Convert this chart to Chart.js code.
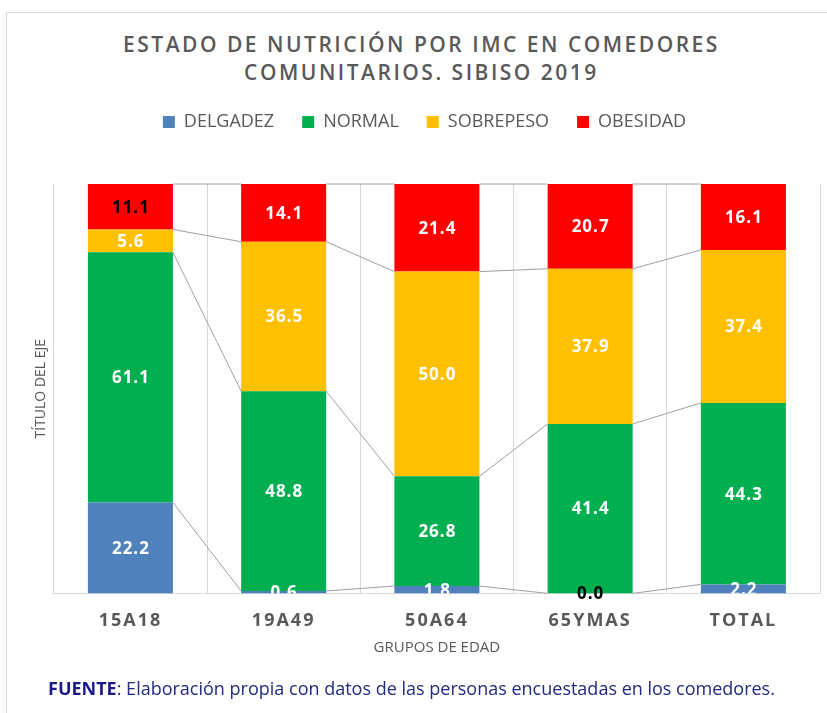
<!DOCTYPE html>
<html>
<head>
<meta charset="utf-8">
<script src="https://cdn.jsdelivr.net/npm/chart.js@4"></script>
<style>
  html, body { margin: 0; padding: 0; background: #fff; }
  body { width: 827px; height: 713px; position: relative; overflow: hidden; font-family: 'Open Sans', sans-serif; }
  .frame { position: absolute; left: 6px; top: 12px; width: 840px; height: 720px; border: 1px solid #d9d9d9; }
  .title {
    position: absolute; left: 8px; top: 30px; width: 827px;
    text-align: center; color: #595959; font-size: 21px; font-weight: 600;
    letter-spacing: 2.5px; line-height: 28px;
  }
  #wrap { position: absolute; left: 0; top: 0; width: 827px; height: 713px; }
  .source {
    position: absolute; left: 48px; top: 676px; white-space: nowrap;
    color: #1f2a80; font-size: 18px; line-height: 24px;
  }
  .source b { color: #1a1a8c; }
</style>
</head>
<body>
<div class="frame"></div>
<div class="title">ESTADO DE NUTRICIÓN POR IMC EN COMEDORES<br>COMUNITARIOS. SIBISO 2019</div>
<div id="wrap"><canvas id="chart"></canvas></div>
<div class="source"><b>FUENTE</b>: Elaboración propia con datos de las personas encuestadas en los comedores.</div>

<script>
/* ---- data ---- */
const GROUPS    = ['15A18', '19A49', '50A64', '65YMAS', 'TOTAL'];
const DELGADEZ  = [22.2, 0.6, 1.8, 0.0, 2.2];
const NORMAL    = [61.1, 48.8, 26.8, 41.4, 44.3];
const SOBREPESO = [5.6, 36.5, 50.0, 37.9, 37.4];
const OBESIDAD  = [11.1, 14.1, 21.4, 20.7, 16.1];

/* labels shown in black instead of white: "dataset-category" */
const DARK_LABELS = ['3-0', '0-3'];

const COLORS = {
  delgadez: '#4f81bd',
  normal: '#00b050',
  sobrepeso: '#ffc000',
  obesidad: '#ff0000',
  text: '#595959',
  grid: '#d9d9d9',
  seriesLine: '#a0a0a0',
};

const FONT = "'Open Sans', sans-serif";

/* Push the plot area down below the legend */
const legendGap = {
  id: 'legendGap',
  beforeInit(chart) {
    const fit = chart.legend.fit;
    chart.legend.fit = function () {
      fit.call(this);
      this.height += 43;
    };
  }
};

/* Letter-spaced category labels */
const tickSpacing = {
  id: 'tickSpacing',
  beforeDraw(chart) {
    const scale = chart.scales.x;
    if (scale._spaced) return;
    const draw = scale.drawLabels;
    scale.drawLabels = function (area) {
      this.ctx.save();
      this.ctx.letterSpacing = '2px';
      draw.call(this, area);
      this.ctx.restore();
    };
    scale._spaced = true;
  }
};

/* Excel style series lines joining the segment tops of neighbouring bars */
const seriesLines = {
  id: 'seriesLines',
  afterDatasetsDraw(chart) {
    const ctx = chart.ctx;
    ctx.save();
    ctx.strokeStyle = COLORS.seriesLine;
    ctx.lineWidth = 1;
    chart.data.datasets.forEach((ds, di) => {
      const bars = chart.getDatasetMeta(di).data;
      for (let i = 0; i < bars.length - 1; i++) {
        const a = bars[i].getProps(['x', 'y', 'width'], true);
        const b = bars[i + 1].getProps(['x', 'y', 'width'], true);
        ctx.beginPath();
        ctx.moveTo(a.x + a.width / 2, a.y);
        ctx.lineTo(b.x - b.width / 2, b.y);
        ctx.stroke();
      }
    });
    ctx.restore();
  }
};

/* Value labels centred in each segment */
const barLabels = {
  id: 'barLabels',
  afterDatasetsDraw(chart) {
    const { ctx, chartArea } = chart;
    ctx.save();
    ctx.font = 'bold 17px ' + FONT;
    ctx.letterSpacing = '1px';
    ctx.textAlign = 'center';
    ctx.textBaseline = 'middle';
    chart.data.datasets.forEach((ds, di) => {
      chart.getDatasetMeta(di).data.forEach((bar, i) => {
        const v = ds.data[i];
        const p = bar.getProps(['x', 'y', 'base'], true);
        ctx.save();
        if (v > 0) {
          ctx.beginPath();
          ctx.rect(chartArea.left, chartArea.top, chartArea.width, chartArea.height);
          ctx.clip();
        }
        ctx.fillStyle = DARK_LABELS.includes(di + '-' + i) ? '#000' : '#fff';
        ctx.fillText(v.toFixed(1), p.x + 0.5, (p.y + p.base) / 2 + 1);
        ctx.restore();
      });
    });
    ctx.restore();
  }
};

const mkSet = (label, data, color) => ({
  label, data,
  backgroundColor: color,
  borderWidth: 0,
  barPercentage: 0.555,
  categoryPercentage: 1,
});

new Chart(document.getElementById('chart'), {
  type: 'bar',
  data: {
    labels: GROUPS,
    datasets: [
      mkSet('DELGADEZ', DELGADEZ, COLORS.delgadez),
      mkSet('NORMAL', NORMAL, COLORS.normal),
      mkSet('SOBREPESO', SOBREPESO, COLORS.sobrepeso),
      mkSet('OBESIDAD', OBESIDAD, COLORS.obesidad),
    ]
  },
  options: {
    responsive: true,
    maintainAspectRatio: false,
    animation: false,
    layout: { padding: { top: 85, left: 29, right: 7, bottom: 52 } },
    plugins: {
      title: { display: false },
      tooltip: { enabled: false },
      legend: {
        position: 'top',
        labels: {
          boxWidth: 12,
          boxHeight: 12,
          padding: 28,
          color: COLORS.text,
          font: { family: FONT, size: 18 },
        }
      }
    },
    scales: {
      x: {
        stacked: true,
        grid: {
          color: (c) => c.index === GROUPS.length ? 'rgba(0,0,0,0)' : COLORS.grid,
          drawTicks: false,
        },
        border: { color: COLORS.grid },
        ticks: {
          color: COLORS.text,
          padding: 17,
          maxRotation: 0,
          autoSkip: false,
          font: { family: FONT, size: 18, weight: 'bold' },
        },
        title: {
          display: true,
          text: 'GRUPOS DE EDAD',
          color: COLORS.text,
          padding: { top: -10, bottom: 4 },
          font: { family: FONT, size: 15 },
        }
      },
      y: {
        stacked: true,
        min: 0,
        max: 100,
        grid: { display: false, drawTicks: false },
        border: { display: true, color: COLORS.grid },
        ticks: { display: false },
        title: {
          display: true,
          text: 'TÍTULO DEL EJE',
          color: COLORS.text,
          padding: 4,
          font: { family: FONT, size: 14 },
        }
      }
    }
  },
  plugins: [legendGap, tickSpacing, seriesLines, barLabels]
});
</script>
</body>
</html>
